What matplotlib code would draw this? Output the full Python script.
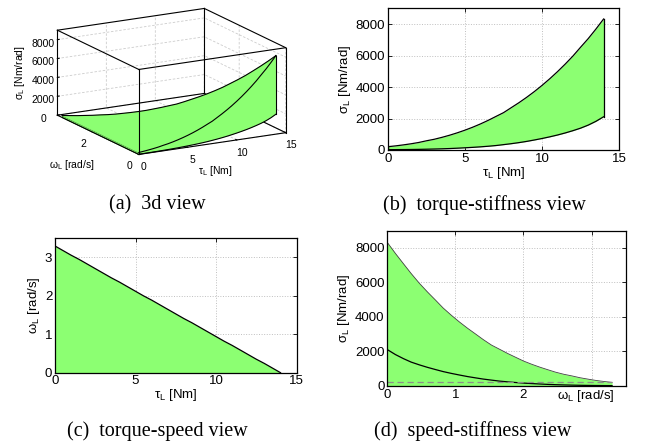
import matplotlib
matplotlib.use("Agg")
import matplotlib.pyplot as plt
from mpl_toolkits.mplot3d.art3d import Poly3DCollection

# ---------------- data ----------------
TAU = [0.0, 0.5, 1.0, 1.5, 2.0, 2.5, 3.0, 3.5, 4.0, 4.5, 5.0, 5.5, 6.0, 6.5,
       7.0, 7.5, 8.0, 8.5, 9.0, 9.5, 10.0, 10.5, 11.0, 11.5, 12.0, 12.5,
       13.0, 13.5, 14.0]                                                       # [Nm]
SIGMA_UPPER = [210, 262, 324, 395, 478, 585, 680, 802, 938, 1091, 1260, 1447,
               1653, 1879, 2126, 2370, 2686, 3002, 3342, 3707, 4100, 4520,
               4969, 5448, 5957, 6520, 7071, 7678, 8320]                        # [Nm/rad]
SIGMA_LOWER = [20, 24, 28, 33, 40, 50, 62, 75, 92, 115, 140, 168, 200, 238,
               282, 340, 400, 468, 545, 635, 730, 835, 950, 1080, 1225, 1385,
               1580, 1820, 2110]                                                # [Nm/rad]
OMEGA_MAX = [3.30, 3.18, 3.06, 2.95, 2.83, 2.71, 2.59, 2.47, 2.36, 2.24, 2.12,
             2.00, 1.89, 1.77, 1.65, 1.53, 1.41, 1.30, 1.18, 1.06, 0.94, 0.82,
             0.71, 0.59, 0.47, 0.35, 0.24, 0.12, 0.00]                          # [rad/s]

TAU_TICKS = [0, 5, 10, 15]
SIGMA_TICKS = [0, 2000, 4000, 6000, 8000]
OMEGA_TICKS_3D = [0, 2]
OMEGA_TICKS_C = [0, 1, 2, 3]
OMEGA_TICKS_D = [0, 1, 2, 3]
OMEGA_TICKLABELS_D = ["0", "1", "2", ""]

TAU_LIM = (0, 15)
SIGMA_LIM = (0, 9000)
OMEGA_LIM = (0, 3.5)

CAPTIONS = ["(a)  3d view", "(b)  torque-stiffness view",
            "(c)  torque-speed view", "(d)  speed-stiffness view"]

GREEN = "#8CFF72"

plt.rcParams["font.family"] = ["Liberation Sans", "DejaVu Sans"]
plt.rcParams["mathtext.fontset"] = "custom"
plt.rcParams["mathtext.rm"] = "Liberation Sans"
plt.rcParams["mathtext.it"] = "Liberation Sans"
plt.rcParams["axes.linewidth"] = 0.9

W, H = 646, 443
fig = plt.figure(figsize=(W / 100, H / 100), dpi=100)

SIG_LBL = "σ$_\\mathrm{L}$ [Nm/rad]"
TAU_LBL = "τ$_\\mathrm{L}$ [Nm]"
OM_LBL = "ω$_\\mathrm{L}$ [rad/s]"

# ---------------- (a) 3d view (added first, transparent) ----------------
S = 300.0                       # square size of the 3d axes in px
CX, CY = 167.5, 85.5            # centre of the 3d box in px (from top-left)
ax3 = fig.add_axes([(CX - S / 2) / W, (H - CY - S / 2) / H, S / W, S / H],
                   projection="3d", computed_zorder=False)
ax3.patch.set_visible(False)
ax3.set_proj_type("ortho")
ax3.view_init(elev=15.5, azim=-119)
ax3.set_box_aspect((1, 1, 0.525), zoom=0.82)
ax3.set_xlim(*TAU_LIM)
ax3.set_ylim(*OMEGA_LIM)
ax3.set_zlim(*SIGMA_LIM)
ax3.set_xticks(TAU_TICKS)
ax3.set_yticks(OMEGA_TICKS_3D)
ax3.set_zticks(SIGMA_TICKS)
for axis in (ax3.xaxis, ax3.yaxis, ax3.zaxis):
    axis.set_pane_color((1, 1, 1, 0))
    axis.pane.set_edgecolor((1, 1, 1, 0))
    axis.line.set_color((0, 0, 0, 0))
    axis._axinfo["grid"].update({"color": (0.8, 0.8, 0.8, 1),
                                 "linestyle": (0, (3, 2)), "linewidth": 0.6})
    axis._axinfo["tick"].update({"inward_factor": 0.0, "outward_factor": 0.15})
ax3.tick_params(labelsize=7.5, pad=-1)

x0, x1 = TAU_LIM
y0, y1 = OMEGA_LIM
z0, z1 = SIGMA_LIM
back_edges = [((x1, x1), (y0, y1), (z0, z0)), ((x0, x1), (y1, y1), (z0, z0)),
              ((x1, x1), (y1, y1), (z0, z1))]
front_edges = [((x0, x1), (y0, y0), (z0, z0)), ((x0, x0), (y0, y1), (z0, z0)),
               ((x0, x0), (y0, y0), (z0, z1)), ((x1, x1), (y0, y0), (z0, z1)),
               ((x0, x0), (y1, y1), (z0, z1)),
               ((x0, x1), (y0, y0), (z1, z1)), ((x0, x1), (y1, y1), (z1, z1)),
               ((x0, x0), (y0, y1), (z1, z1)), ((x1, x1), (y0, y1), (z1, z1))]
for e in back_edges:
    ax3.plot(*e, color="k", lw=0.8, zorder=1, clip_on=False)

n = len(TAU)
top_face = [(TAU[i], 0, SIGMA_UPPER[i]) for i in range(n)] + \
           [(TAU[i], OMEGA_MAX[i], SIGMA_UPPER[i]) for i in range(n - 1, -1, -1)]
front_face = [(TAU[i], 0, SIGMA_LOWER[i]) for i in range(n)] + \
             [(TAU[i], 0, SIGMA_UPPER[i]) for i in range(n - 1, -1, -1)]
side_face = [(TAU[0], 0, SIGMA_LOWER[0]), (TAU[0], OMEGA_MAX[0], SIGMA_LOWER[0]),
             (TAU[0], OMEGA_MAX[0], SIGMA_UPPER[0]), (TAU[0], 0, SIGMA_UPPER[0])]
pc_side = Poly3DCollection([side_face], facecolor=GREEN,
                           edgecolor="#2f7a22", linewidth=0.6)
pc_main = Poly3DCollection([top_face, front_face], facecolor=GREEN,
                           edgecolor=GREEN, linewidth=0.3)
for pc in (pc_side, pc_main):
    pc.set_zorder(2)
    pc.set_clip_on(False)
    ax3.add_collection3d(pc)

zero = [0] * n
curves3d = [(TAU, zero, SIGMA_UPPER), (TAU, zero, SIGMA_LOWER),
            (TAU, OMEGA_MAX, SIGMA_UPPER),
            ([TAU[-1], TAU[-1]], [0, 0], [SIGMA_LOWER[-1], SIGMA_UPPER[-1]])]
for c in curves3d:
    ax3.plot(*c, color="k", lw=0.8, zorder=3, clip_on=False)
for e in front_edges:
    ax3.plot(*e, color="k", lw=0.8, zorder=4, clip_on=False)

ax3.set_xlabel("")
ax3.set_ylabel("")
ax3.set_zlabel("")

fig.text(20 / W, 1 - 73 / H, SIG_LBL, rotation=90, fontsize=7.5, ha="center", va="center")
fig.text(72 / W, 1 - 165 / H, OM_LBL, fontsize=7.5, ha="center", va="center")
fig.text(215 / W, 1 - 171 / H, TAU_LBL, fontsize=7.5, ha="center", va="center")


def style2d(ax):
    ax.tick_params(direction="in", top=True, right=True, length=3,
                   width=0.6, labelsize=9.5, pad=2)
    ax.grid(True, linestyle=":", color="0.75", linewidth=0.7)
    ax.set_axisbelow(True)


# ---------------- (b) torque-stiffness ----------------
axb = fig.add_axes([0.6006, 0.6614, 0.3576, 0.3199])
axb.fill_between(TAU, SIGMA_LOWER, SIGMA_UPPER, color=GREEN, linewidth=0)
axb.plot(TAU, SIGMA_UPPER, color="k", lw=0.9)
axb.plot(TAU, SIGMA_LOWER, color="k", lw=0.9)
axb.plot([TAU[-1], TAU[-1]], [SIGMA_LOWER[-1], SIGMA_UPPER[-1]], color="k", lw=0.9)
axb.plot([TAU[0], TAU[0]], [SIGMA_LOWER[0], SIGMA_UPPER[0]], color="k", lw=0.9)
axb.set_xlim(*TAU_LIM)
axb.set_ylim(*SIGMA_LIM)
axb.set_xticks(TAU_TICKS)
axb.set_yticks(SIGMA_TICKS)
style2d(axb)
axb.set_xlabel(TAU_LBL, fontsize=9.5, labelpad=0)
axb.set_ylabel(SIG_LBL, fontsize=9.5, labelpad=2)

# ---------------- (c) torque-speed ----------------
axc = fig.add_axes([0.0851, 0.1587, 0.3741, 0.3034])
axc.fill_between(TAU, 0, OMEGA_MAX, color=GREEN, linewidth=0)
axc.plot(TAU, OMEGA_MAX, color="k", lw=0.9)
axc.set_xlim(*TAU_LIM)
axc.set_ylim(*OMEGA_LIM)
axc.set_xticks(TAU_TICKS)
axc.set_yticks(OMEGA_TICKS_C)
style2d(axc)
axc.set_xlabel(TAU_LBL, fontsize=9.5, labelpad=0)
axc.set_ylabel(OM_LBL, fontsize=9.5, labelpad=2)

# ---------------- (d) speed-stiffness ----------------
axd = fig.add_axes([0.5995, 0.1287, 0.3690, 0.3506])
axd.fill_between(OMEGA_MAX, SIGMA_LOWER[0], SIGMA_UPPER, color=GREEN, linewidth=0)
axd.plot(OMEGA_MAX, SIGMA_UPPER, color="0.25", lw=0.6)
axd.plot(OMEGA_MAX, SIGMA_LOWER, color="k", lw=0.9)
axd.plot([0, OMEGA_MAX[0]], [SIGMA_UPPER[0], SIGMA_UPPER[0]], color="0.55",
         lw=0.9, linestyle=(0, (5, 3)))
axd.set_xlim(*OMEGA_LIM)
axd.set_ylim(*SIGMA_LIM)
axd.set_xticks(OMEGA_TICKS_D)
axd.set_xticklabels(OMEGA_TICKLABELS_D)
axd.set_yticks(SIGMA_TICKS)
style2d(axd)
axd.set_ylabel(SIG_LBL, fontsize=9.5, labelpad=2)
axd.text(0.833, -0.064, OM_LBL, transform=axd.transAxes, ha="center",
         va="center", fontsize=9.5)

# ---------------- captions ----------------
cap_kw = dict(fontsize=14.5, ha="center", va="center",
              family=["Liberation Serif", "DejaVu Serif"])
fig.text(157 / W, 1 - 205 / H, CAPTIONS[0], **cap_kw)
fig.text(484 / W, 1 - 205 / H, CAPTIONS[1], **cap_kw)
fig.text(157 / W, 1 - 431 / H, CAPTIONS[2], **cap_kw)
fig.text(473 / W, 1 - 431 / H, CAPTIONS[3], **cap_kw)

fig.savefig("out.png", dpi=100)
